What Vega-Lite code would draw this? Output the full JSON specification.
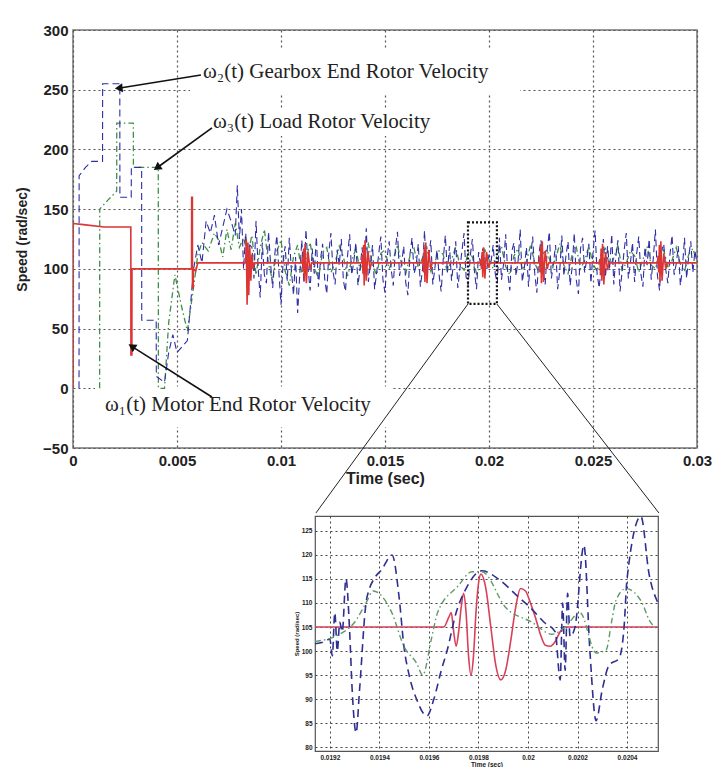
{
  "$schema": "https://vega.github.io/schema/vega-lite/v6.json",
  "background": "white",
  "padding": {"left": 14, "top": 22, "right": 0, "bottom": 0},
  "spacing": 0,
  "config": {
    "font": "Liberation Sans",
    "view": {"stroke": null},
    "axis": {
      "labelFont": "Liberation Sans",
      "titleFont": "Liberation Sans",
      "labelFontWeight": "bold",
      "titleFontWeight": "bold",
      "labelColor": "#222",
      "titleColor": "#222",
      "labelFlush": false,
      "domain": false,
      "ticks": false,
      "tickSize": 0,
      "gridDash": [2, 3]
    }
  },
  "datasets": {
    "w1": [
      {"t": 0, "v": 0}, {"t": 0.000005, "v": 138}, {"t": 0.0005, "v": 137}, {"t": 0.0015, "v": 135},
      {"t": 0.00278, "v": 135}, {"t": 0.002785, "v": 28}, {"t": 0.00283, "v": 28}, {"t": 0.002835, "v": 100},
      {"t": 0.0057, "v": 100}, {"t": 0.005705, "v": 160}, {"t": 0.00574, "v": 160}, {"t": 0.005745, "v": 84},
      {"t": 0.00578, "v": 84}, {"t": 0.005785, "v": 100}, {"t": 0.0059, "v": 98}, {"t": 0.006, "v": 105},
      {"t": 0.0083, "v": 105}, {"t": 0.00833, "v": 125}, {"t": 0.00837, "v": 70}, {"t": 0.00841, "v": 122},
      {"t": 0.00845, "v": 78}, {"t": 0.0085, "v": 118}, {"t": 0.00855, "v": 90}, {"t": 0.0086, "v": 112},
      {"t": 0.00866, "v": 100}, {"t": 0.00872, "v": 105},
      {"t": 0.011, "v": 105}, {"t": 0.01103, "v": 110}, {"t": 0.01106, "v": 98}, {"t": 0.01109, "v": 117},
      {"t": 0.01112, "v": 90}, {"t": 0.01116, "v": 121}, {"t": 0.01122, "v": 88}, {"t": 0.0113, "v": 114},
      {"t": 0.0114, "v": 99}, {"t": 0.01147, "v": 105},
      {"t": 0.01388, "v": 105}, {"t": 0.01391, "v": 112}, {"t": 0.01394, "v": 96}, {"t": 0.01397, "v": 120},
      {"t": 0.014, "v": 86}, {"t": 0.01404, "v": 124}, {"t": 0.0141, "v": 90}, {"t": 0.01418, "v": 115},
      {"t": 0.01428, "v": 100}, {"t": 0.01435, "v": 105},
      {"t": 0.0168, "v": 105}, {"t": 0.01683, "v": 109}, {"t": 0.01686, "v": 97}, {"t": 0.01689, "v": 118},
      {"t": 0.01692, "v": 89}, {"t": 0.01696, "v": 122}, {"t": 0.01702, "v": 88}, {"t": 0.0171, "v": 116},
      {"t": 0.0172, "v": 100}, {"t": 0.01727, "v": 105},
      {"t": 0.01958, "v": 105}, {"t": 0.01961, "v": 108}, {"t": 0.01964, "v": 100}, {"t": 0.01967, "v": 114},
      {"t": 0.0197, "v": 93}, {"t": 0.01974, "v": 118}, {"t": 0.0198, "v": 92}, {"t": 0.01988, "v": 114},
      {"t": 0.01998, "v": 101}, {"t": 0.02005, "v": 105},
      {"t": 0.0224, "v": 105}, {"t": 0.02243, "v": 110}, {"t": 0.02246, "v": 97}, {"t": 0.02249, "v": 119},
      {"t": 0.02252, "v": 88}, {"t": 0.02256, "v": 123}, {"t": 0.02262, "v": 89}, {"t": 0.0227, "v": 115},
      {"t": 0.0228, "v": 100}, {"t": 0.02287, "v": 105},
      {"t": 0.0253, "v": 105}, {"t": 0.02533, "v": 108}, {"t": 0.02536, "v": 96}, {"t": 0.02539, "v": 117},
      {"t": 0.02542, "v": 90}, {"t": 0.02546, "v": 121}, {"t": 0.02552, "v": 87}, {"t": 0.0256, "v": 114},
      {"t": 0.0257, "v": 99}, {"t": 0.02577, "v": 105},
      {"t": 0.0281, "v": 105}, {"t": 0.02813, "v": 111}, {"t": 0.02816, "v": 97}, {"t": 0.02819, "v": 120},
      {"t": 0.02822, "v": 89}, {"t": 0.02826, "v": 123}, {"t": 0.02832, "v": 90}, {"t": 0.0284, "v": 113},
      {"t": 0.0285, "v": 100}, {"t": 0.02857, "v": 105}, {"t": 0.03, "v": 105}
    ],
    "w2": [
      {"t": 0.00029, "v": 0}, {"t": 0.000295, "v": 178}, {"t": 0.0006, "v": 185}, {"t": 0.0009, "v": 190},
      {"t": 0.00142, "v": 190}, {"t": 0.001425, "v": 255}, {"t": 0.00225, "v": 255}, {"t": 0.002255, "v": 160},
      {"t": 0.0028, "v": 160}, {"t": 0.002805, "v": 185}, {"t": 0.0033, "v": 185}, {"t": 0.003305, "v": 57},
      {"t": 0.004, "v": 57}, {"t": 0.004005, "v": 10}, {"t": 0.0044, "v": 5}, {"t": 0.0046, "v": 30},
      {"t": 0.0048, "v": 45}, {"t": 0.005, "v": 30}, {"t": 0.0055, "v": 40}, {"t": 0.0058, "v": 100},
      {"t": 0.006, "v": 120}, {"t": 0.0062, "v": 105}, {"t": 0.0064, "v": 140}, {"t": 0.0066, "v": 130},
      {"t": 0.0068, "v": 145}, {"t": 0.007, "v": 120}, {"t": 0.0072, "v": 135}, {"t": 0.0074, "v": 150},
      {"t": 0.0076, "v": 140}, {"t": 0.0078, "v": 128}, {"t": 0.0079, "v": 170}, {"t": 0.008, "v": 125},
      {"t": 0.0081, "v": 150}, {"t": 0.0082, "v": 100}, {"t": 0.0083, "v": 130}, {"t": 0.0084, "v": 110},
      {"t": 0.0085, "v": 120},
      {"t": 0.0086, "v": 118}, {"t": 0.0087, "v": 92}, {"t": 0.0088, "v": 140}, {"t": 0.0089, "v": 101},
      {"t": 0.0090, "v": 76}, {"t": 0.0091, "v": 122}, {"t": 0.0092, "v": 95}, {"t": 0.0093, "v": 88},
      {"t": 0.0094, "v": 131}, {"t": 0.0095, "v": 104}, {"t": 0.0096, "v": 84}, {"t": 0.0097, "v": 112},
      {"t": 0.0098, "v": 128}, {"t": 0.0099, "v": 97}, {"t": 0.0100, "v": 70}, {"t": 0.0101, "v": 106},
      {"t": 0.0102, "v": 119}, {"t": 0.0103, "v": 90}, {"t": 0.0104, "v": 126}, {"t": 0.0105, "v": 99},
      {"t": 0.0106, "v": 78}, {"t": 0.0107, "v": 110}, {"t": 0.0108, "v": 63}, {"t": 0.0109, "v": 95},
      {"t": 0.0110, "v": 124}, {"t": 0.0111, "v": 88}, {"t": 0.0112, "v": 133}, {"t": 0.0113, "v": 101},
      {"t": 0.0114, "v": 82}, {"t": 0.0115, "v": 117}, {"t": 0.0116, "v": 96}, {"t": 0.0117, "v": 127},
      {"t": 0.0118, "v": 85}, {"t": 0.0119, "v": 108}, {"t": 0.0120, "v": 121}, {"t": 0.0121, "v": 92},
      {"t": 0.0122, "v": 79}, {"t": 0.0123, "v": 114}, {"t": 0.0124, "v": 130}, {"t": 0.0125, "v": 98},
      {"t": 0.0126, "v": 87}, {"t": 0.0127, "v": 116}, {"t": 0.0128, "v": 103}, {"t": 0.0129, "v": 125},
      {"t": 0.0130, "v": 90}, {"t": 0.0131, "v": 81}, {"t": 0.0132, "v": 111}, {"t": 0.0133, "v": 129},
      {"t": 0.0134, "v": 95}, {"t": 0.0135, "v": 106}, {"t": 0.0136, "v": 122}, {"t": 0.0137, "v": 86},
      {"t": 0.0138, "v": 100}, {"t": 0.0139, "v": 118}, {"t": 0.0140, "v": 93}, {"t": 0.0141, "v": 134},
      {"t": 0.0142, "v": 89}, {"t": 0.0143, "v": 104}, {"t": 0.0144, "v": 120}, {"t": 0.0145, "v": 83},
      {"t": 0.0146, "v": 97}, {"t": 0.0147, "v": 113}, {"t": 0.0148, "v": 127}, {"t": 0.0149, "v": 91},
      {"t": 0.0150, "v": 80}, {"t": 0.0151, "v": 109}, {"t": 0.0152, "v": 123}, {"t": 0.0153, "v": 99},
      {"t": 0.0154, "v": 86}, {"t": 0.0155, "v": 117}, {"t": 0.0156, "v": 131}, {"t": 0.0157, "v": 94},
      {"t": 0.0158, "v": 105}, {"t": 0.0159, "v": 119}, {"t": 0.0160, "v": 88}, {"t": 0.0161, "v": 78},
      {"t": 0.0162, "v": 112}, {"t": 0.0163, "v": 126}, {"t": 0.0164, "v": 96}, {"t": 0.0165, "v": 103},
      {"t": 0.0166, "v": 121}, {"t": 0.0167, "v": 85}, {"t": 0.0168, "v": 99}, {"t": 0.0169, "v": 132},
      {"t": 0.0170, "v": 92}, {"t": 0.0171, "v": 110}, {"t": 0.0172, "v": 124}, {"t": 0.0173, "v": 87},
      {"t": 0.0174, "v": 101}, {"t": 0.0175, "v": 116}, {"t": 0.0176, "v": 95}, {"t": 0.0177, "v": 81},
      {"t": 0.0178, "v": 108}, {"t": 0.0179, "v": 128}, {"t": 0.0180, "v": 97}, {"t": 0.0181, "v": 119},
      {"t": 0.0182, "v": 90}, {"t": 0.0183, "v": 106}, {"t": 0.0184, "v": 123}, {"t": 0.0185, "v": 84},
      {"t": 0.0186, "v": 100}, {"t": 0.0187, "v": 115}, {"t": 0.0188, "v": 130}, {"t": 0.0189, "v": 93},
      {"t": 0.0190, "v": 86}, {"t": 0.0191, "v": 111}, {"t": 0.0192, "v": 125}, {"t": 0.0193, "v": 98},
      {"t": 0.0194, "v": 83}, {"t": 0.0195, "v": 114}, {"t": 0.0196, "v": 103}, {"t": 0.0197, "v": 117},
      {"t": 0.0198, "v": 109}, {"t": 0.0199, "v": 100}, {"t": 0.0200, "v": 112}, {"t": 0.0201, "v": 106},
      {"t": 0.0202, "v": 120}, {"t": 0.0203, "v": 96}, {"t": 0.0204, "v": 88}, {"t": 0.0205, "v": 126},
      {"t": 0.0206, "v": 91}, {"t": 0.0207, "v": 104}, {"t": 0.0208, "v": 129}, {"t": 0.0209, "v": 97},
      {"t": 0.0210, "v": 82}, {"t": 0.0211, "v": 115}, {"t": 0.0212, "v": 122}, {"t": 0.0213, "v": 94},
      {"t": 0.0214, "v": 107}, {"t": 0.0215, "v": 133}, {"t": 0.0216, "v": 89}, {"t": 0.0217, "v": 101},
      {"t": 0.0218, "v": 118}, {"t": 0.0219, "v": 85}, {"t": 0.0220, "v": 110}, {"t": 0.0221, "v": 127},
      {"t": 0.0222, "v": 96}, {"t": 0.0223, "v": 80}, {"t": 0.0224, "v": 113}, {"t": 0.0225, "v": 124},
      {"t": 0.0226, "v": 99}, {"t": 0.0227, "v": 87}, {"t": 0.0228, "v": 116}, {"t": 0.0229, "v": 131},
      {"t": 0.0230, "v": 92}, {"t": 0.0231, "v": 105}, {"t": 0.0232, "v": 120}, {"t": 0.0233, "v": 83},
      {"t": 0.0234, "v": 98}, {"t": 0.0235, "v": 128}, {"t": 0.0236, "v": 94}, {"t": 0.0237, "v": 111},
      {"t": 0.0238, "v": 123}, {"t": 0.0239, "v": 86}, {"t": 0.0240, "v": 102}, {"t": 0.0241, "v": 130},
      {"t": 0.0242, "v": 90}, {"t": 0.0243, "v": 79}, {"t": 0.0244, "v": 117}, {"t": 0.0245, "v": 126},
      {"t": 0.0246, "v": 97}, {"t": 0.0247, "v": 108}, {"t": 0.0248, "v": 121}, {"t": 0.0249, "v": 88},
      {"t": 0.0250, "v": 114}, {"t": 0.0251, "v": 132}, {"t": 0.0252, "v": 95}, {"t": 0.0253, "v": 84},
      {"t": 0.0254, "v": 106}, {"t": 0.0255, "v": 125}, {"t": 0.0256, "v": 93}, {"t": 0.0257, "v": 119},
      {"t": 0.0258, "v": 100}, {"t": 0.0259, "v": 129}, {"t": 0.0260, "v": 87}, {"t": 0.0261, "v": 111},
      {"t": 0.0262, "v": 124}, {"t": 0.0263, "v": 81}, {"t": 0.0264, "v": 98}, {"t": 0.0265, "v": 116},
      {"t": 0.0266, "v": 130}, {"t": 0.0267, "v": 92}, {"t": 0.0268, "v": 105}, {"t": 0.0269, "v": 122},
      {"t": 0.0270, "v": 89}, {"t": 0.0271, "v": 113}, {"t": 0.0272, "v": 127}, {"t": 0.0273, "v": 96},
      {"t": 0.0274, "v": 85}, {"t": 0.0275, "v": 118}, {"t": 0.0276, "v": 103}, {"t": 0.0277, "v": 125},
      {"t": 0.0278, "v": 91}, {"t": 0.0279, "v": 109}, {"t": 0.0280, "v": 133}, {"t": 0.0281, "v": 94},
      {"t": 0.0282, "v": 82}, {"t": 0.0283, "v": 115}, {"t": 0.0284, "v": 121}, {"t": 0.0285, "v": 99},
      {"t": 0.0286, "v": 88}, {"t": 0.0287, "v": 112}, {"t": 0.0288, "v": 128}, {"t": 0.0289, "v": 95},
      {"t": 0.0290, "v": 104}, {"t": 0.0291, "v": 119}, {"t": 0.0292, "v": 86}, {"t": 0.0293, "v": 101},
      {"t": 0.0294, "v": 126}, {"t": 0.0295, "v": 92}, {"t": 0.0296, "v": 110}, {"t": 0.0297, "v": 123},
      {"t": 0.0298, "v": 97}, {"t": 0.0299, "v": 115}, {"t": 0.0300, "v": 105}
    ],
    "w3": [
      {"t": 0.00128, "v": 0}, {"t": 0.001285, "v": 150}, {"t": 0.0017, "v": 158}, {"t": 0.0021, "v": 165},
      {"t": 0.002105, "v": 222}, {"t": 0.0029, "v": 222}, {"t": 0.002905, "v": 185}, {"t": 0.0041, "v": 185},
      {"t": 0.004105, "v": 0}, {"t": 0.0044, "v": 0}, {"t": 0.0046, "v": 55}, {"t": 0.0049, "v": 95},
      {"t": 0.0052, "v": 70}, {"t": 0.0055, "v": 48}, {"t": 0.0058, "v": 85}, {"t": 0.006, "v": 112},
      {"t": 0.0062, "v": 122}, {"t": 0.0065, "v": 115}, {"t": 0.0068, "v": 130}, {"t": 0.007, "v": 124},
      {"t": 0.0072, "v": 110}, {"t": 0.0074, "v": 133}, {"t": 0.0076, "v": 116}, {"t": 0.0078, "v": 138},
      {"t": 0.008, "v": 118}, {"t": 0.0082, "v": 126}, {"t": 0.0084, "v": 112},
      {"t": 0.0086, "v": 128}, {"t": 0.0088, "v": 95}, {"t": 0.009, "v": 118}, {"t": 0.0092, "v": 133},
      {"t": 0.0094, "v": 104}, {"t": 0.0096, "v": 90}, {"t": 0.0098, "v": 115}, {"t": 0.01, "v": 124},
      {"t": 0.0102, "v": 98}, {"t": 0.0104, "v": 86}, {"t": 0.0106, "v": 110}, {"t": 0.0108, "v": 120},
      {"t": 0.011, "v": 96}, {"t": 0.0112, "v": 108}, {"t": 0.0114, "v": 122}, {"t": 0.0116, "v": 101},
      {"t": 0.0118, "v": 92}, {"t": 0.012, "v": 114}, {"t": 0.0122, "v": 118}, {"t": 0.0124, "v": 97},
      {"t": 0.0126, "v": 105}, {"t": 0.0128, "v": 119}, {"t": 0.013, "v": 110}, {"t": 0.0132, "v": 94},
      {"t": 0.0134, "v": 107}, {"t": 0.0136, "v": 117}, {"t": 0.0138, "v": 99}, {"t": 0.014, "v": 112},
      {"t": 0.0142, "v": 121}, {"t": 0.0144, "v": 103}, {"t": 0.0146, "v": 95}, {"t": 0.0148, "v": 113},
      {"t": 0.015, "v": 116}, {"t": 0.0152, "v": 100}, {"t": 0.0154, "v": 108}, {"t": 0.0156, "v": 120},
      {"t": 0.0158, "v": 104}, {"t": 0.016, "v": 96}, {"t": 0.0162, "v": 111}, {"t": 0.0164, "v": 117},
      {"t": 0.0166, "v": 101}, {"t": 0.0168, "v": 109}, {"t": 0.017, "v": 119}, {"t": 0.0172, "v": 98},
      {"t": 0.0174, "v": 106}, {"t": 0.0176, "v": 115}, {"t": 0.0178, "v": 112}, {"t": 0.018, "v": 97},
      {"t": 0.0182, "v": 108}, {"t": 0.0184, "v": 118}, {"t": 0.0186, "v": 103}, {"t": 0.0188, "v": 99},
      {"t": 0.019, "v": 114}, {"t": 0.0192, "v": 110}, {"t": 0.0194, "v": 96}, {"t": 0.0196, "v": 104},
      {"t": 0.0198, "v": 116}, {"t": 0.02, "v": 108}, {"t": 0.0202, "v": 100}, {"t": 0.0204, "v": 112},
      {"t": 0.0206, "v": 119}, {"t": 0.0208, "v": 102}, {"t": 0.021, "v": 95}, {"t": 0.0212, "v": 111},
      {"t": 0.0214, "v": 117}, {"t": 0.0216, "v": 99}, {"t": 0.0218, "v": 106}, {"t": 0.022, "v": 120},
      {"t": 0.0222, "v": 105}, {"t": 0.0224, "v": 97}, {"t": 0.0226, "v": 113}, {"t": 0.0228, "v": 116},
      {"t": 0.023, "v": 101}, {"t": 0.0232, "v": 108}, {"t": 0.0234, "v": 121}, {"t": 0.0236, "v": 103},
      {"t": 0.0238, "v": 96}, {"t": 0.024, "v": 112}, {"t": 0.0242, "v": 118}, {"t": 0.0244, "v": 100},
      {"t": 0.0246, "v": 107}, {"t": 0.0248, "v": 119}, {"t": 0.025, "v": 104}, {"t": 0.0252, "v": 98},
      {"t": 0.0254, "v": 114}, {"t": 0.0256, "v": 117}, {"t": 0.0258, "v": 102}, {"t": 0.026, "v": 109},
      {"t": 0.0262, "v": 120}, {"t": 0.0264, "v": 99}, {"t": 0.0266, "v": 105}, {"t": 0.0268, "v": 115},
      {"t": 0.027, "v": 111}, {"t": 0.0272, "v": 97}, {"t": 0.0274, "v": 108}, {"t": 0.0276, "v": 119},
      {"t": 0.0278, "v": 103}, {"t": 0.028, "v": 100}, {"t": 0.0282, "v": 113}, {"t": 0.0284, "v": 116},
      {"t": 0.0286, "v": 101}, {"t": 0.0288, "v": 107}, {"t": 0.029, "v": 118}, {"t": 0.0292, "v": 104},
      {"t": 0.0294, "v": 98}, {"t": 0.0296, "v": 112}, {"t": 0.0298, "v": 117}, {"t": 0.03, "v": 106}
    ],
    "i1": [
      {"t": 0.01914, "v": 105}, {"t": 0.01966, "v": 105}, {"t": 0.01968, "v": 107}, {"t": 0.01969, "v": 108},
      {"t": 0.0197, "v": 104}, {"t": 0.01971, "v": 101}, {"t": 0.01972, "v": 104}, {"t": 0.01973, "v": 109},
      {"t": 0.01974, "v": 112}, {"t": 0.01975, "v": 108}, {"t": 0.01976, "v": 99}, {"t": 0.01977, "v": 95},
      {"t": 0.01978, "v": 99}, {"t": 0.01979, "v": 108}, {"t": 0.0198, "v": 114}, {"t": 0.01981, "v": 116},
      {"t": 0.01983, "v": 113}, {"t": 0.01985, "v": 105}, {"t": 0.01987, "v": 97}, {"t": 0.01989, "v": 94},
      {"t": 0.01991, "v": 96}, {"t": 0.01993, "v": 102}, {"t": 0.01995, "v": 109}, {"t": 0.01997, "v": 113},
      {"t": 0.01999, "v": 112.5}, {"t": 0.02001, "v": 110}, {"t": 0.02003, "v": 107}, {"t": 0.02005, "v": 103.5},
      {"t": 0.02007, "v": 101.2}, {"t": 0.02009, "v": 101}, {"t": 0.02011, "v": 102}, {"t": 0.02013, "v": 104},
      {"t": 0.02015, "v": 105}, {"t": 0.020525, "v": 105}
    ],
    "i2": [
      {"t": 0.01914, "v": 101.5}, {"t": 0.01918, "v": 102}, {"t": 0.0192, "v": 102.5}, {"t": 0.01921, "v": 99},
      {"t": 0.01922, "v": 108}, {"t": 0.01923, "v": 100}, {"t": 0.01924, "v": 106}, {"t": 0.01925, "v": 104},
      {"t": 0.019265, "v": 115}, {"t": 0.01928, "v": 104}, {"t": 0.01929, "v": 92}, {"t": 0.019306, "v": 83},
      {"t": 0.01932, "v": 92}, {"t": 0.019346, "v": 110}, {"t": 0.01936, "v": 113}, {"t": 0.019378, "v": 115},
      {"t": 0.01941, "v": 117}, {"t": 0.019451, "v": 120}, {"t": 0.01948, "v": 111}, {"t": 0.019499, "v": 101},
      {"t": 0.01952, "v": 95}, {"t": 0.01955, "v": 90}, {"t": 0.019592, "v": 86.5}, {"t": 0.01962, "v": 90},
      {"t": 0.01965, "v": 96}, {"t": 0.019673, "v": 100}, {"t": 0.01971, "v": 108}, {"t": 0.01975, "v": 113},
      {"t": 0.019814, "v": 116.7}, {"t": 0.01988, "v": 115}, {"t": 0.019952, "v": 111.7}, {"t": 0.02001, "v": 109},
      {"t": 0.020065, "v": 106}, {"t": 0.02011, "v": 104}, {"t": 0.02013, "v": 94}, {"t": 0.02014, "v": 110},
      {"t": 0.02015, "v": 96}, {"t": 0.02016, "v": 112}, {"t": 0.02017, "v": 103}, {"t": 0.02019, "v": 105},
      {"t": 0.020226, "v": 122}, {"t": 0.02025, "v": 100}, {"t": 0.020275, "v": 85.5}, {"t": 0.0203, "v": 92},
      {"t": 0.020327, "v": 97}, {"t": 0.020368, "v": 98.5}, {"t": 0.020388, "v": 105}, {"t": 0.0204, "v": 115},
      {"t": 0.020456, "v": 128}, {"t": 0.020489, "v": 116}, {"t": 0.020525, "v": 110}
    ],
    "i3": [
      {"t": 0.01914, "v": 102}, {"t": 0.01924, "v": 103.5}, {"t": 0.0193, "v": 106}, {"t": 0.019346, "v": 110},
      {"t": 0.019375, "v": 112.5}, {"t": 0.01945, "v": 108}, {"t": 0.019499, "v": 101}, {"t": 0.01955, "v": 97.5},
      {"t": 0.019575, "v": 95}, {"t": 0.01961, "v": 102.5}, {"t": 0.019635, "v": 108}, {"t": 0.019717, "v": 113.5},
      {"t": 0.019774, "v": 116.5}, {"t": 0.019814, "v": 116.5}, {"t": 0.019911, "v": 109}, {"t": 0.020016, "v": 106},
      {"t": 0.020097, "v": 103.5}, {"t": 0.02015, "v": 105}, {"t": 0.02021, "v": 108}, {"t": 0.020275, "v": 99.6},
      {"t": 0.020315, "v": 100.2}, {"t": 0.020339, "v": 106.5}, {"t": 0.020355, "v": 110.5}, {"t": 0.020396, "v": 113},
      {"t": 0.020461, "v": 110}, {"t": 0.020489, "v": 106.5}, {"t": 0.020525, "v": 104.5}
    ],
    "masks": [
      {"t": 0.00563, "t2": 0.02149, "v": 283.3, "v2": 247.2},
      {"t": 0.00635, "t2": 0.01798, "v": 234.7, "v2": 211.2},
      {"t": 0.00106, "t2": 0.01534, "v": 1.5, "v2": -32.4}
    ],
    "zoombox": [
      {"t": 0.01899, "t2": 0.02038, "v": 139, "v2": 70.6}
    ],
    "links": [
      {"t": 0.01899, "v": 70.6, "t2": 0.01168, "v2": -104.4},
      {"t": 0.02038, "v": 70.6, "t2": 0.02817, "v2": -104.4}
    ],
    "arrows": [
      {"name": "gear", "t": 0.00226, "v": 251.4, "t2": 0.00615, "v2": 262.3},
      {"name": "load", "t": 0.00409, "v": 185.3, "t2": 0.00668, "v2": 218},
      {"name": "motor", "t": 0.00288, "v": 34.5, "t2": 0.00668, "v2": -7.3}
    ],
    "notes": [
      {"t": 0.00625, "v": 264.8, "label": "ω₂(t) Gearbox End Rotor Velocity"},
      {"t": 0.00673, "v": 223, "label": "ω₃(t) Load Rotor Velocity"},
      {"t": 0.00154, "v": -14, "label": "ω₁(t) Motor End Rotor Velocity"}
    ]
  },
  "vconcat": [
    {
      "width": 624,
      "height": 418,
      "view": {"stroke": "#777", "strokeWidth": 1.5},
      "encoding": {
        "x": {
          "field": "t",
          "type": "quantitative",
          "scale": {"domain": [0, 0.03], "nice": false, "zero": false},
          "axis": {
            "values": [0, 0.005, 0.01, 0.015, 0.02, 0.025, 0.03],
            "format": ".3~f",
            "title": "Time (sec)",
            "labelFontSize": 15,
            "titleFontSize": 16,
            "labelPadding": 5,
            "titlePadding": 2,
            "gridColor": "#555",
            "gridWidth": 1.2
          }
        },
        "y": {
          "field": "v",
          "type": "quantitative",
          "scale": {"domain": [-50, 300], "nice": false, "zero": false},
          "axis": {
            "values": [-50, 0, 50, 100, 150, 200, 250, 300],
            "format": "d",
            "title": "Speed (rad/sec)",
            "labelFontSize": 15,
            "titleFontSize": 14,
            "labelPadding": 5,
            "titlePadding": 13,
            "gridColor": "#555",
            "gridWidth": 1.2
          }
        }
      },
      "layer": [
        {
          "data": {"name": "masks"},
          "mark": {"type": "rect", "fill": "white", "strokeWidth": 0},
          "encoding": {"x2": {"field": "t2"}, "y2": {"field": "v2"}}
        },
        {
          "data": {"name": "w3"},
          "mark": {"type": "line", "color": "#3f8f48", "strokeWidth": 1.3, "strokeDash": [6, 3, 1.5, 3], "clip": true}
        },
        {
          "data": {"name": "w2"},
          "mark": {"type": "line", "color": "#2e2ea6", "strokeWidth": 1.1, "strokeDash": [7, 4], "clip": true}
        },
        {
          "data": {"name": "w1"},
          "mark": {"type": "line", "color": "#dd3434", "strokeWidth": 1.6, "clip": true}
        },
        {
          "data": {"name": "zoombox"},
          "mark": {"type": "rect", "fillOpacity": 0, "stroke": "#111", "strokeWidth": 2.2, "strokeDash": [2, 2]},
          "encoding": {"x2": {"field": "t2"}, "y2": {"field": "v2"}}
        },
        {
          "data": {"name": "links"},
          "mark": {"type": "rule", "color": "#222", "strokeWidth": 1, "clip": false},
          "encoding": {"x2": {"field": "t2"}, "y2": {"field": "v2"}}
        },
        {
          "data": {"name": "arrows"},
          "mark": {"type": "rule", "color": "#111", "strokeWidth": 1.6},
          "encoding": {"x2": {"field": "t2"}, "y2": {"field": "v2"}}
        },
        {
          "data": {"name": "arrows"},
          "transform": [{"filter": "datum.name == 'gear'"}],
          "mark": {"type": "point", "shape": "triangle", "filled": true, "color": "#111", "opacity": 1, "size": 80, "angle": 264}
        },
        {
          "data": {"name": "arrows"},
          "transform": [{"filter": "datum.name == 'load'"}],
          "mark": {"type": "point", "shape": "triangle", "filled": true, "color": "#111", "opacity": 1, "size": 80, "angle": 235}
        },
        {
          "data": {"name": "arrows"},
          "transform": [{"filter": "datum.name == 'motor'"}],
          "mark": {"type": "point", "shape": "triangle", "filled": true, "color": "#111", "opacity": 1, "size": 80, "angle": 302}
        },
        {
          "data": {"name": "notes"},
          "mark": {"type": "text", "align": "left", "baseline": "middle", "font": "Liberation Serif", "fontSize": 21, "color": "#222"},
          "encoding": {"text": {"field": "label"}}
        }
      ]
    },
    {
      "spacing": 0,
      "hconcat": [
        {
          "width": 219,
          "height": 20,
          "view": {"stroke": null},
          "data": {"values": [{}]},
          "mark": {"type": "point", "opacity": 0}
        },
        {
          "width": 343,
          "height": 235,
          "view": {"stroke": "#555", "strokeWidth": 1.2},
          "encoding": {
            "x": {
              "field": "t",
              "type": "quantitative",
              "scale": {"domain": [0.01914, 0.020525], "nice": false, "zero": false},
              "axis": {
                "values": [0.0192, 0.0194, 0.0196, 0.0198, 0.02, 0.0202, 0.0204],
                "format": ".4~f",
                "title": "Time (sec)",
                "labelFontSize": 6.5,
                "titleFontSize": 6.5,
                "labelPadding": 3,
                "titlePadding": 1,
                "gridColor": "#444",
                "gridWidth": 1
              }
            },
            "y": {
              "field": "v",
              "type": "quantitative",
              "scale": {"domain": [79.2, 128.1], "nice": false, "zero": false},
              "axis": {
                "values": [80, 85, 90, 95, 100, 105, 110, 115, 120, 125],
                "format": "d",
                "title": "Speed (rad/sec)",
                "labelFontSize": 6.5,
                "titleFontSize": 6,
                "labelPadding": 3,
                "titlePadding": 2,
                "gridColor": "#444",
                "gridWidth": 1
              }
            }
          },
          "layer": [
            {
              "data": {"name": "i1"},
              "mark": {"type": "line", "color": "#d8405a", "strokeWidth": 1.6, "interpolate": "monotone", "clip": true}
            },
            {
              "data": {"name": "i2"},
              "mark": {"type": "line", "color": "#2f2f92", "strokeWidth": 1.6, "strokeDash": [8, 5], "interpolate": "monotone", "clip": true}
            },
            {
              "data": {"name": "i3"},
              "mark": {"type": "line", "color": "#5f9a68", "strokeWidth": 1.4, "strokeDash": [6, 3, 1.5, 3], "interpolate": "monotone", "clip": true}
            }
          ]
        }
      ]
    }
  ]
}
